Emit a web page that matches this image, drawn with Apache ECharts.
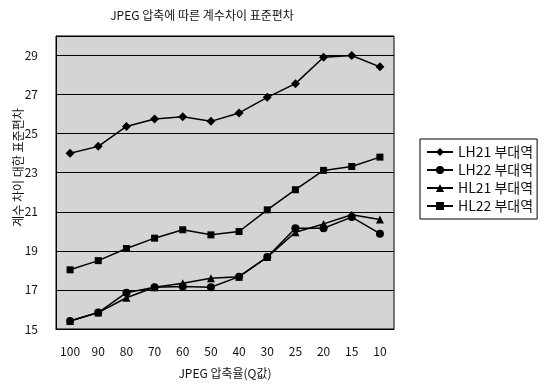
<!DOCTYPE html>
<html><head><meta charset="utf-8">
<script src="https://cdn.jsdelivr.net/npm/echarts@6/dist/echarts.min.js"></script>
<style>html,body{margin:0;padding:0;background:#fff}#c{width:545px;height:385px}</style>
</head><body><div id="c"></div>
<script>
const categories = ['100','90','80','70','60','50','40','30','25','20','15','10'];
const seriesNames = ['LH21 부대역','LH22 부대역','HL21 부대역','HL22 부대역'];
const lh21 = [24.0,24.35,25.37,25.75,25.87,25.63,26.06,26.86,27.56,28.91,29.0,28.42];
const lh22 = [15.41,15.84,16.86,17.14,17.17,17.14,17.68,18.68,20.16,20.16,20.73,19.88];
const hl21 = [15.41,15.84,16.6,17.14,17.34,17.6,17.68,18.68,19.95,20.38,20.85,20.6];
const hl22 = [18.03,18.5,19.12,19.65,20.08,19.82,19.99,21.1,22.13,23.12,23.32,23.8];
const yTicks = {min:15, max:30, interval:2};

const font = '"Noto Sans CJK KR", "Noto Sans", sans-serif';
const chart = echarts.init(document.getElementById('c'), null, {renderer:'canvas'});
const symbols = ['diamond','circle','triangle','rect'];
const sizes = [9,8,8,7];
const data = [lh21, lh22, hl21, hl22];
chart.setOption({
  animation:false,
  backgroundColor:'#fff',
  title:{text:'JPEG 압축에 따른 계수차이 표준편차', left:197, top:4, textAlign:'center',
    textStyle:{fontFamily:font, fontSize:12, fontWeight:'normal', color:'#111'}},
  grid:{left:56, right:151, top:36, bottom:56, show:true, outerBoundsMode:'none', containLabel:false,
    backgroundColor:'#d4d4d4', borderColor:'#000', borderWidth:1},
  legend:{orient:'vertical', left:420, top:139, itemWidth:26, itemHeight:10, itemGap:4,
    padding:[6,4,6,6], borderColor:'#000', borderWidth:1,
    textStyle:{fontFamily:font, fontSize:14, color:'#111'}, data:seriesNames},
  xAxis:{type:'category', data:categories, boundaryGap:true,
    name:'JPEG 압축율(Q값)', nameLocation:'middle', nameGap:38, nameMoveOverlap:false,
    nameTextStyle:{fontFamily:font, fontSize:12, color:'#111'},
    axisLine:{lineStyle:{color:'#000'}}, axisTick:{inside:true, length:3, lineStyle:{color:'#000'}},
    axisLabel:{fontFamily:font, fontSize:12, color:'#111', margin:16}},
  yAxis:{type:'value', min:yTicks.min, max:yTicks.max, interval:yTicks.interval,
    name:'계수 차이 대한 표준편차', nameLocation:'middle', nameGap:32, nameMoveOverlap:false,
    nameTextStyle:{fontFamily:font, fontSize:12, color:'#111', padding:[0,0,0,30]},
    axisLine:{show:true, lineStyle:{color:'#000'}}, axisTick:{show:true, inside:true, length:3, lineStyle:{color:'#000'}},
    splitLine:{show:true, lineStyle:{color:'#000', width:1}},
    axisLabel:{fontFamily:font, fontSize:12, color:'#111', margin:18, showMaxLabel:false}},
  series: seriesNames.map((n,i)=>({
    name:n, type:'line', data:data[i], symbol:symbols[i], symbolSize:sizes[i],
    itemStyle:{color:'#000'}, lineStyle:{color:'#000', width:1.5}, z:3+i
  }))
});
</script></body></html>
